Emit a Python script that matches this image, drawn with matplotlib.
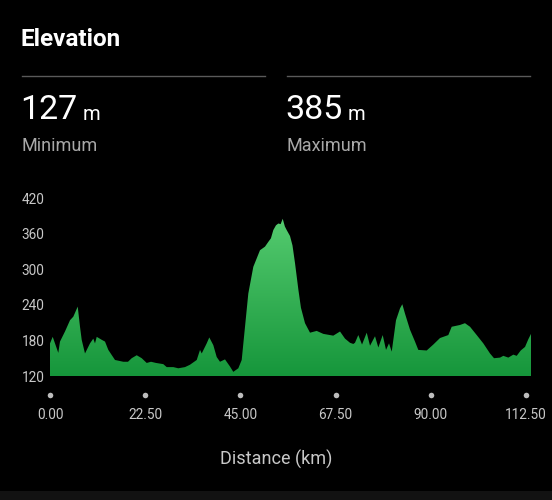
import numpy as np
import matplotlib
matplotlib.use('Agg')
import matplotlib.pyplot as plt
import matplotlib.transforms as mtransforms
from matplotlib.colors import LinearSegmentedColormap
from matplotlib.patches import Polygon, Rectangle

plt.rcParams['font.family'] = ['Roboto', 'DejaVu Sans']

# elevation profile
distance_km = [0, 0.64, 1.18, 1.96, 2.36, 3.54, 4.73, 5.51, 6.55, 7.09, 7.49, 8.27,
               9.45, 10.23, 10.63, 11.04, 12.22, 13.0, 13.78, 15.36, 17.32, 18.43,
               19.31, 20.49, 21.67, 22.85, 23.87, 25.05, 26.77, 27.58, 29.14, 30.32,
               31.9, 33.08, 34.67, 35.45, 35.85, 37.03, 37.64, 38.59, 39.39, 40.17,
               41.35, 42.53, 43.31, 44.5, 45.3, 46.08, 46.86, 48.04, 49.62, 50.8,
               51.58, 52.2, 52.77, 53.4, 53.95, 54.5, 54.99, 55.5, 55.93, 56.71,
               57.3, 57.9, 58.7, 59.3, 60.26,
               61.44, 63.02, 64.58, 66.94, 68.53, 69.71, 70.89, 71.67, 72.07, 72.85,
               73.73, 74.84, 75.62, 76.8, 77.58, 78.62, 79.4, 80.11, 80.75, 81.76,
               82.71, 83.25, 83.89, 85.07, 86.25, 87.03, 89.01, 90.57, 92.16, 94.12,
               94.92, 96.88, 98.06, 99.25, 100.83, 102.39, 103.97, 104.92, 106.34,
               107.12, 108.3, 109.48, 110.28, 111.23, 112.25, 113.03, 113.73]
elevation_m = [175, 186, 175, 159, 178, 195, 214, 220, 237, 203, 181, 158,
               175, 183, 175, 186, 181, 178, 164, 147, 144, 144,
               150, 155, 150, 142, 144, 142, 140, 135, 135, 133,
               135, 139, 147, 164, 158, 175, 185, 172, 152, 144,
               148, 136, 127, 133, 147, 203, 259, 304, 332, 338,
               346, 352, 366, 374, 377, 376, 385, 372, 366, 356,
               340, 310, 265, 235, 209,
               193, 196, 191, 188, 195, 183, 176, 174, 176, 189,
               173, 193, 171, 187, 168, 189, 164, 175, 161, 214,
               234, 241, 225, 198, 178, 164, 163, 173, 184, 189,
               203, 206, 209, 203, 189, 175, 158, 150, 151,
               154, 151, 156, 154, 163, 169, 182, 192]

x_ticks = [0, 22.5, 45, 67.5, 90, 112.5]
x_tick_labels = ['0.00', '22.50', '45.00', '67.50', '90.00', '112.50']
y_ticks = [120, 180, 240, 300, 360, 420]

W, H = 552, 500
fig = plt.figure(figsize=(W / 100, H / 100), dpi=100, facecolor='black')

# header
fig.text(21 / W, 1 - 40 / H, 'Elevation', color='white', fontsize=17.5,
         fontweight='bold', va='center', ha='left')
fig.add_artist(plt.Line2D([22 / W, 265 / W], [1 - 76 / H] * 2, color='#5a5a5a', lw=1))
fig.add_artist(plt.Line2D([287 / W, 530 / W], [1 - 76 / H] * 2, color='#5a5a5a', lw=1))
fig.text(20 / W, 1 - 110 / H, '127', color='white', fontsize=24.5, va='center', ha='left')
fig.text(83 / W, 1 - 114 / H, 'm', color='white', fontsize=14.5, va='center', ha='left')
fig.text(22 / W, 1 - 146 / H, 'Minimum', color='#a8a8a8', fontsize=13, va='center', ha='left')
fig.text(285 / W, 1 - 110 / H, '385', color='white', fontsize=24.5, va='center', ha='left')
fig.text(348 / W, 1 - 114 / H, 'm', color='white', fontsize=14.5, va='center', ha='left')
fig.text(287 / W, 1 - 146 / H, 'Maximum', color='#a8a8a8', fontsize=13, va='center', ha='left')

# bottom strip
fig.add_artist(Rectangle((0, 0), 1, 9.5 / H, transform=fig.transFigure,
                         color='#121212', lw=0))

ax = fig.add_axes([50 / W, 124 / H, 481.3 / W, 178 / H])
ax.set_facecolor('black')
ax.set_xlim(0, 113.73)
ax.set_ylim(120, 420)

# gradient fill under the profile
cmap = LinearSegmentedColormap.from_list('g', ['#16963b', '#56cc70'])
grad = np.linspace(0, 1, 256).reshape(-1, 1)
img = ax.imshow(grad, extent=[0, 113.73, 120, 390], origin='lower', aspect='auto',
                cmap=cmap, zorder=2)
verts = [(distance_km[0], 120)] + list(zip(distance_km, elevation_m)) + [(distance_km[-1], 120)]
poly = Polygon(verts, closed=True, facecolor='none', edgecolor='none')
ax.add_patch(poly)
img.set_clip_path(poly)

for s in ax.spines.values():
    s.set_visible(False)

ax.set_yticks(y_ticks)
ax.set_yticklabels([str(v) for v in y_ticks])
ax.set_xticks(x_ticks)
ax.set_xticklabels(x_tick_labels)
ax.tick_params(axis='y', length=0, pad=4, colors='#c8c8c8', labelsize=9.8)
ax.tick_params(axis='x', length=0, pad=23, colors='#c8c8c8', labelsize=9.8)

trans = mtransforms.blended_transform_factory(ax.transData, ax.transAxes)
ax.plot(x_ticks, [-19 / 178] * len(x_ticks), 'o', color='#bdbdbd', ms=4,
        transform=trans, clip_on=False, mec='none')

fig.text(276 / W, 1 - 459 / H, 'Distance (km)', color='#c8c8c8', fontsize=13,
         ha='center', va='center')

fig.savefig('out.png', dpi=100, facecolor='black')
